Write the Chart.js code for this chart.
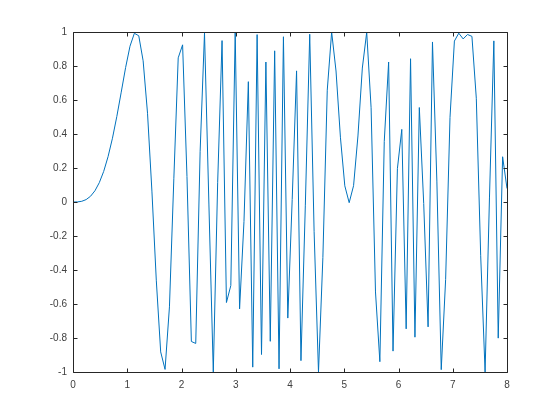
<!DOCTYPE html>
<html>
<head>
<meta charset="utf-8">
<script src="https://cdn.jsdelivr.net/npm/chart.js@4/dist/chart.umd.min.js"></script>
<style>
html,body{margin:0;padding:0;background:#fff;}
#wrap{width:560px;height:420px;}
</style>
</head>
<body>
<div id="wrap"><canvas id="c" width="560" height="420"></canvas></div>
<script>
// x positions: 100 samples from 0 to 8
const xValues = [0,0.0808,0.1616,0.2424,0.3232,0.4040,0.4848,0.5657,0.6465,0.7273,
0.8081,0.8889,0.9697,1.0505,1.1313,1.2121,1.2929,1.3737,1.4545,1.5354,
1.6162,1.6970,1.7778,1.8586,1.9394,2.0202,2.1010,2.1818,2.2626,2.3434,
2.4242,2.5051,2.5859,2.6667,2.7475,2.8283,2.9091,2.9899,3.0707,3.1515,
3.2323,3.3131,3.3939,3.4747,3.5556,3.6364,3.7172,3.7980,3.8788,3.9596,
4.0404,4.1212,4.2020,4.2828,4.3636,4.4444,4.5253,4.6061,4.6869,4.7677,
4.8485,4.9293,5.0101,5.0909,5.1717,5.2525,5.3333,5.4141,5.4949,5.5758,
5.6566,5.7374,5.8182,5.8990,5.9798,6.0606,6.1414,6.2222,6.3030,6.3838,
6.4646,6.5455,6.6263,6.7071,6.7879,6.8687,6.9495,7.0303,7.1111,7.1919,
7.2727,7.3535,7.4343,7.5152,7.5960,7.6768,7.7576,7.8384,7.9192,8.0000];
const yValues = [0,0.0005,0.0042,0.0142,0.0338,0.0659,0.1137,0.1800,0.2669,0.3752,
0.5035,0.6460,0.7906,0.9164,0.9924,0.9780,0.8306,0.5222,0.0642,-0.4598,
-0.8818,-0.9848,-0.6168,0.1366,0.8479,0.9246,0.1498,-0.8205,-0.8320,0.2984,
0.9940,-0.0119,-0.9999,0.1132,0.9494,-0.5914,-0.4914,0.9997,-0.6288,-0.1147,
0.7079,-0.9715,0.9847,-0.8971,0.8235,-0.8195,0.8894,-0.9814,0.9721,-0.6829,
0.0144,0.7714,-0.9333,-0.0185,0.9867,-0.1722,-1.0000,-0.3258,0.6576,0.9999,
0.7705,0.3812,0.0952,-0.0040,0.0959,0.3883,0.7880,0.9985,0.5542,-0.5291,
-0.9395,0.3563,0.8236,-0.8772,0.1959,0.4271,-0.7462,0.8428,-0.7953,0.5557,
-0.0087,-0.7345,0.9414,0.1230,-0.9863,-0.4553,0.4979,0.9466,0.9930,0.9593,
0.9853,0.9743,0.6103,-0.3164,-0.9997,0.0238,0.9478,-0.8009,0.2661,0.0795];
const xTicks = [0,1,2,3,4,5,6,7,8];
const yTicks = [-1,-0.8,-0.6,-0.4,-0.2,0,0.2,0.4,0.6,0.8,1];

const points = xValues.map((x,i)=>({x:x,y:yValues[i]}));
const axisColor = '#262626';
const labelColor = '#404040';

const boxPlugin = {
  id:'box',
  afterDraw(chart){
    const ctx = chart.ctx, a = chart.chartArea;
    const xs = chart.scales.x, ys = chart.scales.y;
    const L = Math.round(a.left)+0.5, R = Math.round(a.right)+0.5;
    const T = Math.round(a.top)+0.5, B = Math.round(a.bottom)+0.5;
    ctx.save();
    ctx.strokeStyle = axisColor;
    ctx.lineWidth = 1;
    ctx.beginPath();
    ctx.rect(L, T, R-L, B-T);
    const tl = 4;
    xTicks.forEach(v=>{
      const px = Math.round(xs.getPixelForValue(v))+0.5;
      ctx.moveTo(px,B); ctx.lineTo(px,B-tl);
      ctx.moveTo(px,T); ctx.lineTo(px,T+tl);
    });
    yTicks.forEach(v=>{
      const py = Math.round(ys.getPixelForValue(v))+0.5;
      ctx.moveTo(L,py); ctx.lineTo(L+tl,py);
      ctx.moveTo(R,py); ctx.lineTo(R-tl,py);
    });
    ctx.stroke();
    ctx.restore();
  }
};

new Chart(document.getElementById('c'), {
  type:'line',
  data:{datasets:[{
    data:points,
    borderColor:'#0072BD',
    borderWidth:1,
    pointRadius:0,
    tension:0,
    fill:false
  }]},
  options:{
    responsive:false,
    animation:false,
    events:[],
    layout:{padding:{top:32,right:53,left:0,bottom:0}},
    plugins:{legend:{display:false},tooltip:{enabled:false}},
    scales:{
      x:{
        type:'linear', min:0, max:8,
        afterFit(s){ s.height = 48; },
        afterBuildTicks(s){ s.ticks = xTicks.map(v=>({value:v})); },
        grid:{display:false, drawTicks:false},
        border:{display:false},
        ticks:{color:labelColor, padding:7, maxRotation:0, autoSkip:false,
          font:{family:'"Liberation Sans", Arial, sans-serif', size:10},
          callback:(v)=>String(v)}
      },
      y:{
        type:'linear', min:-1, max:1,
        afterFit(s){ s.width = 73; },
        afterBuildTicks(s){ s.ticks = yTicks.map(v=>({value:v})); },
        grid:{display:false, drawTicks:false},
        border:{display:false},
        ticks:{color:labelColor, padding:6, autoSkip:false,
          font:{family:'"Liberation Sans", Arial, sans-serif', size:10},
          callback:(v)=>String(Math.round(v*10)/10)}
      }
    }
  },
  plugins:[boxPlugin]
});
</script>
</body>
</html>
